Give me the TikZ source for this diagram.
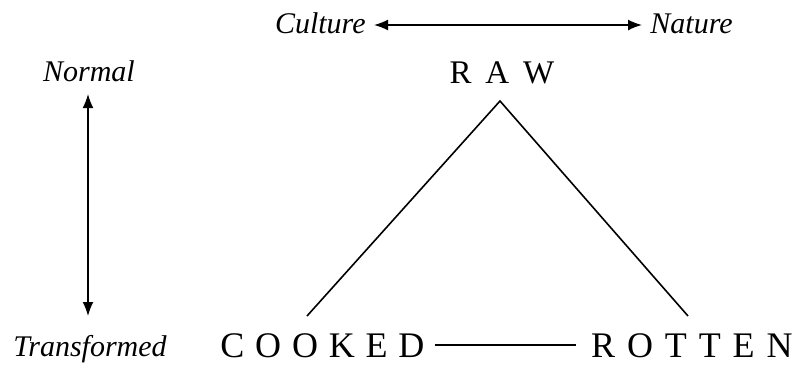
\documentclass[tikz,border=0pt]{standalone}
\usepackage{fontspec}
\setmainfont{Liberation Serif}
\usetikzlibrary{arrows.meta}
\newcommand{\lsp}{\hspace{0.42em}}
\newcommand{\bsp}{\hspace{0.3em}}
\newcommand{\rsp}{\hspace{0.33em}}
\begin{document}
\begin{tikzpicture}[x=0.5pt,y=-0.5pt,
  lab/.style={font=\fontsize{15}{18}\selectfont\itshape, inner sep=0pt},
  capstop/.style={font=\fontsize{16.5}{20}\selectfont, inner sep=0pt},
  capsbot/.style={font=\fontsize{18}{21}\selectfont, inner sep=0pt},
  ln/.style={line width=0.8pt},
  arr/.style={ln,{Latex[length=7pt,width=5.5pt]}-{Latex[length=7pt,width=5.5pt]}}]
\useasboundingbox (0,0) rectangle (797,365);
% axis labels
\node[lab, anchor=base east] (culture) at (366,33) {Culture};
\node[lab, anchor=base west] (nature) at (650,33) {Nature};
\node[lab, anchor=base] (normal) at (89,81) {Normal};
\node[lab, anchor=base] (transformed) at (90,356) {Transformed};
% arrows
\coordinate (cl) at (374,25);
\coordinate (cr) at (642,25);
\draw[arr] (cl) -- (cr);
\coordinate (nt) at (88,94);
\coordinate (nb) at (88,316);
\draw[arr] (nt) -- (nb);
% triangle nodes
\node[capstop, anchor=base] (raw) at (502,83) {R\lsp A\lsp W};
\node[capsbot, anchor=base west] (cooked) at (220,357) {C\bsp O\bsp O\bsp K\bsp E\bsp D};
\node[capsbot, anchor=base east] (rotten) at (793,357) {R\rsp O\rsp T\rsp T\rsp E\rsp N};
\coordinate (apex) at (500,101);
\coordinate (lft) at (307,316);
\coordinate (rgt) at (688,316);
\draw[ln] (lft) -- (apex) -- (rgt);
\draw[ln] ([xshift=5pt]cooked.east) -- ([xshift=-7.5pt]rotten.west);
\end{tikzpicture}
\end{document}
